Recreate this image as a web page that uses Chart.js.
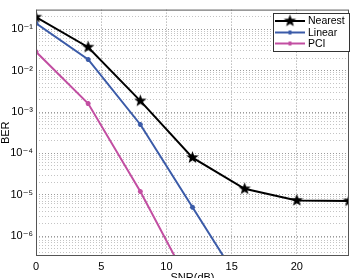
<!DOCTYPE html>
<html>
<head>
<meta charset="utf-8">
<script src="https://cdn.jsdelivr.net/npm/chart.js@4.4.1/dist/chart.umd.min.js"></script>
<style>
  html, body { margin: 0; padding: 0; background: #fff; }
  #wrap { width: 357px; height: 278px; }
</style>
</head>
<body>
<div id="wrap"><canvas id="berChart" width="357" height="278"></canvas></div>
<script>
  const SNR = [0, 4, 8, 12, 16, 20, 24];
  const NEAREST = [0.197, 0.037, 1.86e-3, 7.9e-5, 1.39e-5, 7.3e-6, 7.1e-6];
  const LINEAR = [0.14, 0.0187, 5.0e-4, 5.0e-6, 5e-8];
  const PCI = [0.0287, 1.6e-3, 1.2e-5, 5e-8];
  const X_TICKS = [0, 5, 10, 15, 20];
  const Y_DECADES = [-6, -5, -4, -3, -2, -1];
  const LABELS = ['Nearest', 'Linear', 'PCI'];

  const SUP = {'-': '\u207B', '0': '\u2070', '1': '\u00B9', '2': '\u00B2', '3': '\u00B3',
               '4': '\u2074', '5': '\u2075', '6': '\u2076', '7': '\u2077', '8': '\u2078', '9': '\u2079'};
  const FONT = '"Liberation Sans", "DejaVu Sans", Arial, sans-serif';

  // filled five point star for the Nearest curve
  function makePentagram(r, color) {
    const c = document.createElement('canvas');
    const s = Math.ceil(r * 2 + 2);
    c.width = s; c.height = s;
    const g = c.getContext('2d');
    g.fillStyle = color;
    g.beginPath();
    for (let i = 0; i < 10; i++) {
      const rad = i % 2 === 0 ? r : r * 0.42;
      const a = -Math.PI / 2 + i * Math.PI / 5;
      const px = s / 2 + rad * Math.cos(a);
      const py = s / 2 + rad * Math.sin(a);
      if (i === 0) g.moveTo(px, py); else g.lineTo(px, py);
    }
    g.closePath();
    g.fill();
    return c;
  }
  const starImg = makePentagram(6.5, '#000');

  function toPoints(ys) {
    return ys.map((y, i) => ({x: SNR[i], y: y}));
  }

  function isDecade(v) {
    const e = Math.round(Math.log10(v));
    return Math.abs(v - Math.pow(10, e)) < 1e-9 * Math.pow(10, e);
  }

  // box around plot + legend inside the plot
  const boxPlugin = {
    id: 'boxLegend',
    afterDraw(chart) {
      const {ctx, chartArea: a} = chart;
      ctx.save();
      ctx.strokeStyle = '#555';
      ctx.lineWidth = 1;
      ctx.strokeRect(a.left + 0.5, a.top + 0.5, a.right - a.left - 1, a.bottom - a.top - 1);

      const lx = 273, ly = 13, lw = 76, lh = 38;
      ctx.fillStyle = '#fff';
      ctx.fillRect(lx, ly, lw, lh);
      ctx.strokeStyle = '#333';
      ctx.strokeRect(lx + 0.5, ly + 0.5, lw, lh);
      const rows = [21, 32.5, 43.5];
      ctx.font = '10.5px ' + FONT;
      ctx.textBaseline = 'middle';
      chart.data.datasets.forEach((ds, i) => {
        const y = rows[i];
        ctx.strokeStyle = ds.borderColor;
        ctx.lineWidth = 2;
        ctx.beginPath();
        ctx.moveTo(275, y);
        ctx.lineTo(305, y);
        ctx.stroke();
        if (i === 0) {
          ctx.drawImage(starImg, 290 - starImg.width / 2, y - starImg.height / 2);
        } else {
          ctx.fillStyle = ds.borderColor;
          ctx.fillRect(288.5, y - 2, 3, 4);
        }
        ctx.fillStyle = '#000';
        ctx.fillText(ds.label, 308, y + 0.5);
      });
      ctx.restore();
    }
  };

  const ctx = document.getElementById('berChart').getContext('2d');
  new Chart(ctx, {
    type: 'line',
    data: {
      datasets: [
        {label: LABELS[0], data: toPoints(NEAREST), borderColor: '#000000', backgroundColor: '#000000',
         borderWidth: 2, pointStyle: starImg, pointRadius: 6, tension: 0},
        {label: LABELS[1], data: toPoints(LINEAR), borderColor: '#3b5ba8', backgroundColor: '#3b5ba8',
         borderWidth: 2, pointStyle: 'star', pointRadius: 2.5, pointBorderWidth: 1.5, tension: 0},
        {label: LABELS[2], data: toPoints(PCI), borderColor: '#c24fa2', backgroundColor: '#c24fa2',
         borderWidth: 2, pointStyle: 'star', pointRadius: 2.5, pointBorderWidth: 1.5, tension: 0}
      ]
    },
    options: {
      responsive: false,
      animation: false,
      layout: {padding: {top: 8, right: 4, left: 0, bottom: 0}},
      plugins: {legend: {display: false}, tooltip: {enabled: false}},
      scales: {
        x: {
          type: 'linear',
          min: 0, max: 24,
          afterBuildTicks(scale) {
            scale.ticks = X_TICKS.map(v => ({value: v}));
          },
          afterFit(scale) { scale.height = 22; },
          ticks: {
            color: '#000',
            font: {family: FONT, size: 11},
            padding: 4,
            maxRotation: 0
          },
          grid: {color: '#9a9a9a', lineWidth: 1, drawTicks: false},
          border: {display: false, dash: [1, 2]},
          title: {
            display: true, text: 'SNR(dB)', color: '#000',
            font: {family: FONT, size: 11},
            padding: {top: 0, bottom: -7}
          }
        },
        y: {
          type: 'logarithmic',
          min: 3.3e-7, max: 0.3,
          afterBuildTicks(scale) {
            const t = [];
            for (let e = -7; e <= -1; e++) {
              for (let m = 1; m <= 9; m++) {
                const v = m * Math.pow(10, e);
                if (v >= scale.min && v <= scale.max) t.push({value: v, major: m === 1});
              }
            }
            scale.ticks = t;
          },
          afterFit(scale) { scale.width = 36; },
          ticks: {
            color: '#000',
            font: {family: FONT, size: 11},
            padding: 3,
            autoSkip: false,
            callback(value) {
              const e = Math.round(Math.log10(value));
              if (!isDecade(value) || !Y_DECADES.includes(e)) return '';
              return '10' + String(e).split('').map(ch => SUP[ch]).join('');
            }
          },
          grid: {
            color(c) {
              const v = c.tick && c.tick.value;
              if (!v) return '#bbb';
              return isDecade(v) ? '#9a9a9a' : '#c4c4c4';
            },
            lineWidth: 1, drawTicks: false
          },
          border: {display: false, dash: [1, 2]},
          title: {
            display: true, text: 'BER', color: '#000',
            font: {family: FONT, size: 11},
            padding: {top: -1, bottom: 0}
          }
        }
      }
    },
    plugins: [boxPlugin]
  });
</script>
</body>
</html>
